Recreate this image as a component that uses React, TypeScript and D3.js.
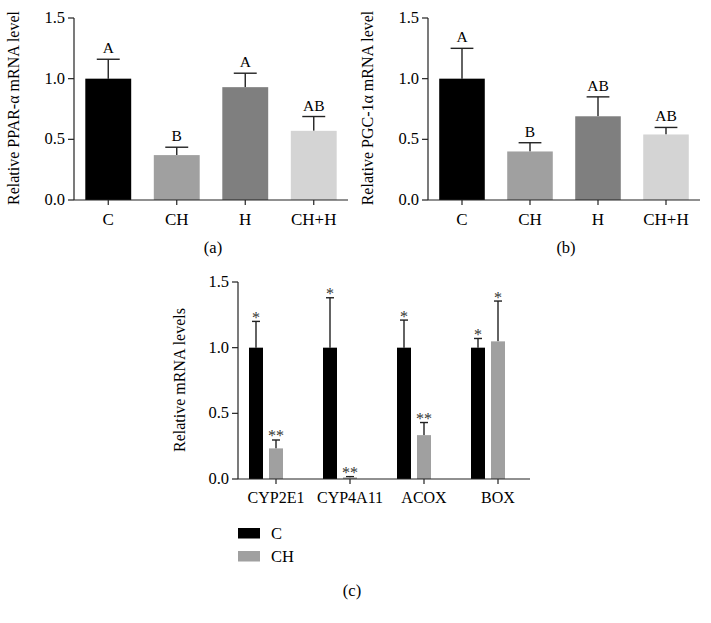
import React from "react";
import * as d3 from "d3";

const groupsAB = ["C", "CH", "H", "CH+H"];
const barColorsAB = ["#000000", "#a0a0a0", "#7f7f7f", "#d4d4d4"];
const pparValues = [1.0, 0.37, 0.93, 0.57];
const pparUpper = [1.16, 0.435, 1.045, 0.688];
const pparLetters = ["A", "B", "A", "AB"];
const pgcValues = [1.0, 0.4, 0.69, 0.54];
const pgcUpper = [1.25, 0.472, 0.85, 0.598];
const pgcLetters = ["A", "B", "AB", "AB"];

const genes = ["CYP2E1", "CYP4A11", "ACOX", "BOX"];
const seriesNames = ["C", "CH"];
const seriesColors = ["#000000", "#a0a0a0"];
const cValues = [1.0, 1.0, 1.0, 1.0];
const cUpper = [1.2, 1.38, 1.21, 1.07];
const cMarks = ["*", "*", "*", "*"];
const chValues = [0.233, 0.012, 0.334, 1.048];
const chUpper = [0.297, 0.018, 0.43, 1.355];
const chMarks = ["**", "**", "**", "*"];

const yTicks = [0, 0.5, 1.0, 1.5];
const yTickLabels = ["0.0", "0.5", "1.0", "1.5"];

const FONT = "Liberation Serif, Times New Roman, serif";
const AX = "#222";
const TXT = "#000";

function SimplePanel({ left, right, top, bottom, values, upper, letters, title, panelLabel }: any) {
  const x = d3.scaleBand().domain(groupsAB).range([left, right]).paddingInner(0.33).paddingOuter(0.165);
  const y = d3.scaleLinear().domain([0, 1.5]).range([bottom, top]);
  const bw = x.bandwidth();
  return (
    <g>
      {groupsAB.map((g, i) => {
        const x0 = x(g)!;
        const cx = x0 + bw / 2;
        return (
          <g key={g}>
            <line x1={cx} x2={cx} y1={y(values[i])} y2={y(upper[i])} stroke="#222" strokeWidth={1.4} />
            <line x1={cx - bw / 4} x2={cx + bw / 4} y1={y(upper[i])} y2={y(upper[i])} stroke="#222" strokeWidth={1.4} />
            <rect x={x0} y={y(values[i])} width={bw} height={y(0) - y(values[i])} fill={barColorsAB[i]} />
            <text x={cx} y={y(upper[i]) - 6} textAnchor="middle" fontSize={15.5} fontFamily={FONT} fill={TXT}>{letters[i]}</text>
            <line x1={cx} x2={cx} y1={bottom} y2={bottom + 5} stroke={AX} strokeWidth={1.2} />
            <text x={cx} y={bottom + 24.5} textAnchor="middle" fontSize={17} fontFamily={FONT} fill={TXT}>{g}</text>
          </g>
        );
      })}
      <line x1={left} x2={right} y1={bottom} y2={bottom} stroke={AX} strokeWidth={1.2} />
      <line x1={left} x2={left} y1={top} y2={bottom} stroke={AX} strokeWidth={1.2} />
      {yTicks.map((t, i) => (
        <g key={t}>
          <line x1={left - 6} x2={left} y1={y(t)} y2={y(t)} stroke={AX} strokeWidth={1.2} />
          <text x={left - 9} y={y(t) + 5} textAnchor="end" fontSize={16.5} fontFamily={FONT} fill={TXT}>{yTickLabels[i]}</text>
        </g>
      ))}
      <text transform={`translate(${left - 55},${(top + bottom) / 2 - 1}) rotate(-90)`} textAnchor="middle" fontSize={16} fontFamily={FONT} fill={TXT}>{title}</text>
      <text x={(left + right) / 2 + 2} y={253} textAnchor="middle" fontSize={16.5} fontFamily={FONT} fill={TXT}>{panelLabel}</text>
    </g>
  );
}

function GroupedPanel() {
  const left = 238, right = 530, top = 282, bottom = 479;
  const x = d3.scalePoint().domain(genes).range([276, 498]);
  const y = d3.scaleLinear().domain([0, 1.5]).range([bottom, top]);
  const bw = 14;
  const offsets = [-20, 0];
  const series = [
    { vals: cValues, up: cUpper, marks: cMarks },
    { vals: chValues, up: chUpper, marks: chMarks },
  ];
  return (
    <g>
      {genes.map((g, gi) => (
        <g key={g}>
          {series.map((s, si) => {
            const cx = x(g)! + offsets[si];
            return (
              <g key={si}>
                <line x1={cx} x2={cx} y1={y(s.vals[gi])} y2={y(s.up[gi])} stroke="#222" strokeWidth={1.4} />
                <line x1={cx - 4} x2={cx + 4} y1={y(s.up[gi])} y2={y(s.up[gi])} stroke="#222" strokeWidth={1.4} />
                <rect x={cx - bw / 2} y={y(s.vals[gi])} width={bw} height={y(0) - y(s.vals[gi])} fill={seriesColors[si]} />
                <text x={cx} y={y(s.up[gi]) + 1.5} textAnchor="middle" fontSize={16} fontFamily={FONT} fill="#333">{s.marks[gi]}</text>
              </g>
            );
          })}
          <line x1={x(g)!} x2={x(g)!} y1={bottom} y2={bottom + 5} stroke={AX} strokeWidth={1.2} />
          <text x={x(g)!} y={503} textAnchor="middle" fontSize={16} fontFamily={FONT} fill={TXT}>{g}</text>
        </g>
      ))}
      <line x1={left} x2={right} y1={bottom} y2={bottom} stroke={AX} strokeWidth={1.2} />
      <line x1={left} x2={left} y1={top} y2={bottom} stroke={AX} strokeWidth={1.2} />
      {yTicks.map((t, i) => (
        <g key={t}>
          <line x1={left - 6} x2={left} y1={y(t)} y2={y(t)} stroke={AX} strokeWidth={1.2} />
          <text x={left - 9} y={y(t) + 5} textAnchor="end" fontSize={16.5} fontFamily={FONT} fill={TXT}>{yTickLabels[i]}</text>
        </g>
      ))}
      <text transform={`translate(${left - 53},${380}) rotate(-90)`} textAnchor="middle" fontSize={16} fontFamily={FONT} fill={TXT}>Relative mRNA levels</text>
      {seriesNames.map((n, i) => (
        <g key={n}>
          <rect x={238} y={528 + i * 23} width={22} height={10.5} fill={seriesColors[i]} />
          <text x={271} y={539 + i * 23} fontSize={16.5} fontFamily={FONT} fill={TXT}>{n}</text>
        </g>
      ))}
      <text x={352} y={596} textAnchor="middle" fontSize={16.5} fontFamily={FONT} fill={TXT}>(c)</text>
    </g>
  );
}

export default function App() {
  return (
    <svg width={711} height={623} style={{ position: "absolute", left: 0, top: 0, background: "#fff" }}>
      <rect width={711} height={623} fill="#fff" />
      <SimplePanel left={74} right={348} top={18} bottom={200} values={pparValues} upper={pparUpper} letters={pparLetters} title="Relative PPAR-α mRNA level" panelLabel="(a)" />
      <SimplePanel left={428} right={700} top={18} bottom={200} values={pgcValues} upper={pgcUpper} letters={pgcLetters} title="Relative PGC-1α mRNA level" panelLabel="(b)" />
      <GroupedPanel />
    </svg>
  );
}
